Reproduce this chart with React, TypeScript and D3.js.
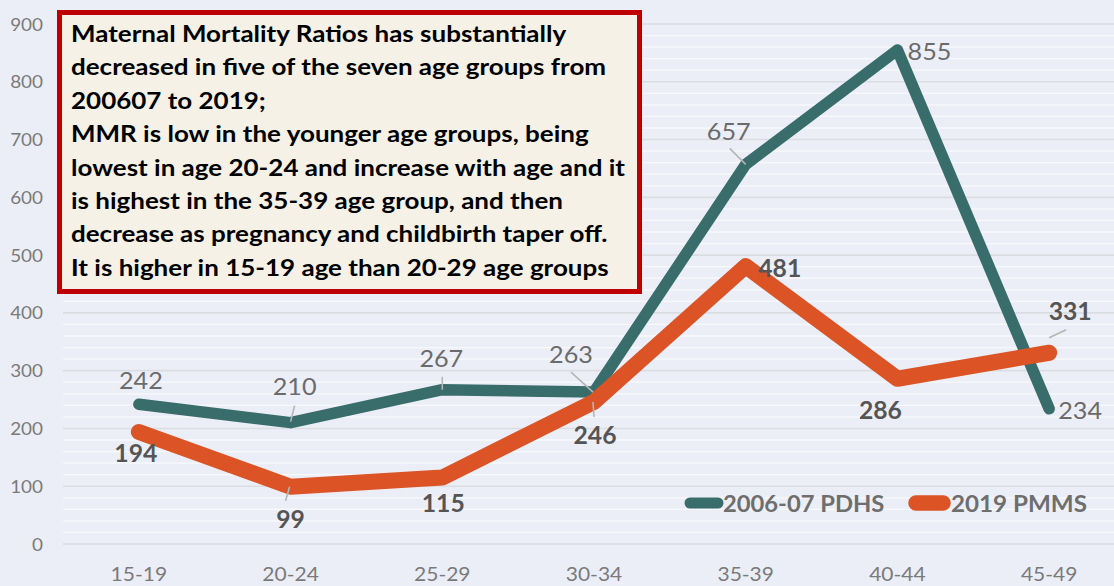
import React from "react";
import * as d3 from "d3";

const ageGroups = ["15-19", "20-24", "25-29", "30-34", "35-39", "40-44", "45-49"];
const pdhs = [242, 210, 267, 263, 657, 855, 234];
const pmms = [194, 99, 115, 246, 481, 286, 331];
const yTicks = [0, 100, 200, 300, 400, 500, 600, 700, 800, 900];
const seriesNames = ["2006-07 PDHS", "2019 PMMS"];
const noteLines = [
  "Maternal Mortality Ratios has substantially",
  "decreased in five of the seven age groups from",
  "200607 to 2019;",
  "MMR is low in the younger age groups, being",
  "lowest in age 20-24 and increase with age and it",
  "is highest in the 35-39 age group, and then",
  "decrease as pregnancy and childbirth taper off.",
  "It is higher in 15-19 age than 20-29 age groups",
];

// label offsets from the point [dx, dy]
const pdhsLabelOff = [[2, -24], [4, -36], [-1, -31], [-23, -38], [-17, -33], [32, 1], [31, 2]];
const pmmsLabelOff = [[-3, 22], [0, 33], [1, 26], [1, 34], [34, 2], [-17, 32], [21, -41]];

const W = 1114, H = 586;
const TEAL = "#386d6c";
const ORANGE = "#dc5325";
const font = "Lato, 'Open Sans', sans-serif";

// text slightly widened horizontally, like the source's wide face
function T({ x, y, sx, anchor = "start", children, ...rest }: any) {
  return (
    <text transform={`translate(${x},${y}) scale(${sx},1)`} textAnchor={anchor}
      fontFamily={font} {...rest}>{children}</text>
  );
}

export default function App() {
  const x = d3.scalePoint<string>().domain(ageGroups).range([63, 1125]).padding(0.5);
  const y = d3.scaleLinear().domain([0, 900]).range([544, 24]);
  const minor = d3.range(0, 920, 20);

  const line = d3
    .line<number>()
    .x((d, i) => x(ageGroups[i])!)
    .y((d) => y(d));

  const px = (i: number) => x(ageGroups[i])!;

  return (
    <svg width={W} height={H} style={{ position: "absolute", left: 0, top: 0 }}>
      <rect x={0} y={0} width={W} height={H} fill="#eceef7" />
      {minor.map((v) => (
        <line key={"m" + v} x1={63} x2={W} y1={y(v)} y2={y(v)}
          stroke={v % 100 === 0 ? "#dcdde3" : "#f8f9fc"} strokeWidth={v % 100 === 0 ? 1.6 : 1.3} />
      ))}
      {yTicks.map((v) => (
        <T key={"y" + v} x={43} y={y(v) + 6.5} sx={1.05} anchor="end" fontSize={18} fill="#7a7a7a">{v}</T>
      ))}
      {ageGroups.map((g) => (
        <T key={"x" + g} x={x(g)} y={581} sx={1.05} anchor="middle" fontSize={20} fill="#7a7a7a">{g}</T>
      ))}
      <path d={line(pdhs)!} fill="none" stroke={TEAL} strokeWidth={11.5} strokeLinecap="round" strokeLinejoin="round" />
      <path d={line(pmms)!} fill="none" stroke={ORANGE} strokeWidth={16} strokeLinecap="round" strokeLinejoin="round" />
      {/* leader lines */}
      <g stroke="#b5b5b5" strokeWidth={1.6}>
        <line x1={px(1) + 4} y1={y(210) - 17} x2={px(1) + 0} y2={y(210) - 1} />
        <line x1={px(2)} y1={y(267) - 13} x2={px(2)} y2={y(267)} />
        <line x1={px(3) - 23} y1={y(263) - 20} x2={px(3) - 1} y2={y(263)} />
        <line x1={px(4) - 16} y1={y(657) - 16} x2={px(4)} y2={y(657)} />
        <line x1={px(3) - 1} y1={y(246)} x2={px(3)} y2={y(246) + 15} />
        <line x1={px(1) - 1} y1={y(99)} x2={px(1) - 5} y2={y(99) + 14} />
        <line x1={px(6)} y1={y(331) - 15} x2={px(6) + 17} y2={y(331) - 23} />
      </g>
      {pdhs.map((v, i) => {
        const [dx, dy] = pdhsLabelOff[i];
        return (
          <T key={"pl" + i} x={px(i) + dx} y={y(v) + dy + 8.5} sx={1.05} anchor="middle"
            fontSize={24} fill="#6b6b6b">{v}</T>
        );
      })}
      {pmms.map((v, i) => {
        const [dx, dy] = pmmsLabelOff[i];
        return (
          <T key={"ml" + i} x={px(i) + dx} y={y(v) + dy + 8.5} sx={1.03} anchor="middle"
            fontSize={24} fontWeight="bold" fill="#555">{v}</T>
        );
      })}
      {/* legend */}
      <line x1={690} x2={718} y1={503} y2={503} stroke={TEAL} strokeWidth={11} strokeLinecap="round" />
      <T x={723} y={512} sx={1.08} fontSize={22} fontWeight="bold" fill="#6e6e6e">{seriesNames[0]}</T>
      <line x1={916} x2={943} y1={503} y2={503} stroke={ORANGE} strokeWidth={15.5} strokeLinecap="round" />
      <T x={951} y={512} sx={1.1} fontSize={22} fontWeight="bold" fill="#6e6e6e">{seriesNames[1]}</T>
      {/* note box */}
      <rect x={59.5} y={12.5} width={580} height={279} fill="#f5f1e6" stroke="#c00000" strokeWidth={5} />
      {noteLines.map((t, i) => (
        <T key={"n" + i} x={71} y={42 + i * 33.4} sx={1.13} fontSize={23} fontWeight="bold" fill="#000">{t}</T>
      ))}
    </svg>
  );
}
